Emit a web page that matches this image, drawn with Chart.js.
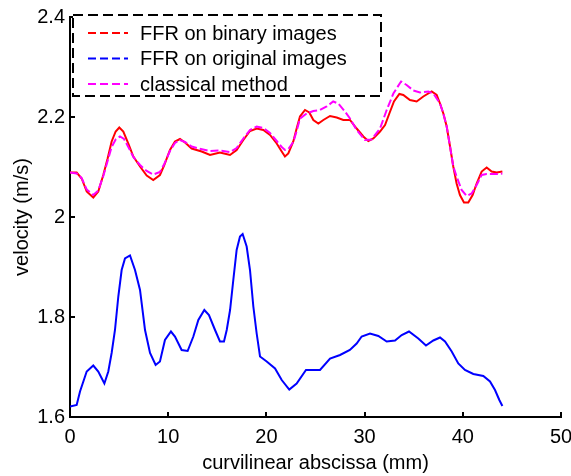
<!DOCTYPE html>
<html>
<head>
<meta charset="utf-8">
<script src="https://cdn.jsdelivr.net/npm/chart.js@4/dist/chart.umd.min.js"></script>
<style>
  body { margin: 0; background: #fff; }
  #wrap { width: 571px; height: 476px; }
</style>
</head>
<body>
<div id="wrap"><canvas id="velChart" width="571" height="476"></canvas></div>
<script>
// ---------------- DATA ----------------
const binaryX = [0, 0.68, 1.19, 1.7, 2.37, 2.88, 3.39, 3.83, 4.24, 4.65, 5.02, 5.43, 5.94, 6.45, 7.13, 7.81, 8.48, 9.16, 9.6, 10.18,
    10.69, 11.2, 11.71, 12.39, 13.41, 14.26, 15.27, 16.29, 16.97, 17.65, 18.33, 19.01, 19.69, 20.37, 21.05, 21.56, 21.89, 22.23, 22.74, 23.08,
    23.42, 23.93, 24.37, 24.78, 25.29, 25.8, 26.48, 27.16, 27.83, 28.51, 29.19, 29.87, 30.38, 30.89, 31.57, 32.08, 32.52, 32.99, 33.54, 33.94,
    34.62, 35.3, 35.98, 36.83, 37.34, 37.68, 38.02, 38.36, 38.7, 39.03, 39.37, 39.71, 40.12, 40.56, 41.0, 41.41, 41.92, 42.43, 42.94, 43.45, 44.03];
const binaryY = [2.089, 2.089, 2.077, 2.051, 2.039, 2.051, 2.084, 2.117, 2.151, 2.171, 2.179, 2.171, 2.147, 2.121, 2.101, 2.083, 2.074, 2.084, 2.104, 2.134,
    2.151, 2.156, 2.149, 2.137, 2.131, 2.124, 2.129, 2.124, 2.134, 2.154, 2.172, 2.177, 2.174, 2.164, 2.147, 2.131, 2.121, 2.127, 2.151, 2.177,
    2.201, 2.214, 2.209, 2.194, 2.187, 2.194, 2.202, 2.199, 2.194, 2.194, 2.177, 2.161, 2.152, 2.157, 2.171, 2.184, 2.207, 2.231, 2.246, 2.244,
    2.234, 2.231, 2.241, 2.251, 2.244, 2.227, 2.207, 2.181, 2.141, 2.101, 2.067, 2.044, 2.029, 2.029, 2.044, 2.067, 2.091, 2.099, 2.091, 2.089, 2.091];

const originalX = [0, 0.68, 1.02, 1.7, 2.37, 2.88, 3.5, 3.9, 4.24, 4.58, 4.92, 5.26, 5.6, 6.11, 6.62, 7.13, 7.64, 8.15, 8.72, 9.16,
    9.67, 10.28, 10.69, 11.37, 11.98, 12.56, 13.07, 13.68, 14.15, 14.77, 15.27, 15.68, 15.96, 16.3, 16.63, 16.97, 17.31, 17.58, 17.99, 18.33,
    18.67, 19.01, 19.35, 20.03, 20.88, 21.56, 22.33, 23.08, 24.03, 25.46, 26.48, 27.5, 28.5, 29.19, 29.7, 30.55, 31.4, 32.25, 33.1, 33.78,
    34.52, 35.47, 36.25, 37.0, 37.68, 38.19, 38.87, 39.54, 40.22, 41.07, 42.09, 42.77, 43.28, 43.72, 44.03];
const originalY = [1.621, 1.624, 1.651, 1.691, 1.703, 1.691, 1.667, 1.691, 1.728, 1.774, 1.841, 1.894, 1.917, 1.923, 1.894, 1.854, 1.774, 1.728, 1.704, 1.711,
    1.754, 1.771, 1.761, 1.734, 1.732, 1.761, 1.794, 1.814, 1.804, 1.774, 1.751, 1.751, 1.774, 1.814, 1.874, 1.934, 1.961, 1.966, 1.941, 1.894,
    1.821, 1.767, 1.721, 1.711, 1.697, 1.674, 1.655, 1.667, 1.694, 1.694, 1.717, 1.724, 1.734, 1.747, 1.761, 1.767, 1.762, 1.751, 1.753, 1.764,
    1.771, 1.757, 1.743, 1.753, 1.759, 1.751, 1.731, 1.707, 1.694, 1.686, 1.682, 1.671, 1.654, 1.634, 1.622];

const classicalX = [0, 0.68, 1.19, 1.7, 2.37, 2.88, 3.39, 3.83, 4.24, 4.65, 5.09, 5.5, 5.94, 6.45, 7.13, 7.81, 8.48, 9.16, 9.6, 10.18,
    10.69, 11.2, 11.71, 12.39, 13.07, 14.26, 15.27, 16.29, 16.97, 17.65, 18.33, 19.01, 19.69, 20.37, 21.05, 21.56, 21.89, 22.23, 22.74, 23.08,
    23.42, 24.1, 24.78, 25.46, 26.14, 26.8, 27.32, 28.0, 28.51, 29.19, 30.04, 30.72, 31.57, 32.25, 32.93, 33.71, 34.28, 34.96, 35.64, 36.49,
    37.0, 37.68, 38.02, 38.36, 38.7, 39.03, 39.37, 39.88, 40.39, 40.9, 41.41, 41.92, 42.43, 43.45, 44.03];
const classicalY = [2.089, 2.087, 2.078, 2.055, 2.044, 2.053, 2.082, 2.112, 2.140, 2.155, 2.161, 2.156, 2.140, 2.120, 2.104, 2.092, 2.085, 2.090, 2.106, 2.132,
    2.148, 2.154, 2.150, 2.141, 2.137, 2.132, 2.133, 2.130, 2.138, 2.157, 2.174, 2.181, 2.178, 2.168, 2.152, 2.140, 2.134, 2.136, 2.150, 2.172,
    2.197, 2.207, 2.212, 2.214, 2.221, 2.231, 2.227, 2.211, 2.197, 2.174, 2.154, 2.155, 2.177, 2.214, 2.247, 2.271, 2.264, 2.253, 2.249, 2.251,
    2.247, 2.227, 2.207, 2.181, 2.141, 2.101, 2.081, 2.054, 2.042, 2.047, 2.064, 2.084, 2.086, 2.086, 2.087];

const xTicks = [0, 10, 20, 30, 40, 50];
const xTickLabels = ["0", "10", "20", "30", "40", "50"];
const yTicks = [1.6, 1.8, 2.0, 2.2, 2.4];
const yTickLabels = ["1.6", "1.8", "2", "2.2", "2.4"];

const seriesNames = ["FFR on binary images", "FFR on original images", "classical method"];

// ---------------- HELPERS ----------------
const toPoints = (xs, ys) => xs.map((x, i) => ({ x: x, y: ys[i] }));

Chart.defaults.font.family = "'Liberation Sans', Arial, sans-serif";
Chart.defaults.color = "#000";

// inward tick marks on the left and bottom axes
const innerTicks = {
    id: "innerTicks",
    afterDraw(chart) {
        const ctx = chart.ctx;
        const area = chart.chartArea;
        const xs = chart.scales.x, ys = chart.scales.y;
        ctx.save();
        ctx.strokeStyle = "#000";
        ctx.lineWidth = 2;
        ctx.beginPath();
        yTicks.forEach(v => {
            const py = Math.round(ys.getPixelForValue(v));
            ctx.moveTo(area.left, py);
            ctx.lineTo(area.left + 5, py);
        });
        xTicks.forEach(v => {
            const px = Math.round(xs.getPixelForValue(v));
            ctx.moveTo(px, area.bottom);
            ctx.lineTo(px, area.bottom - 5);
        });
        ctx.stroke();
        ctx.restore();
    }
};

// dashed legend box in the top-left corner
const boxLegend = {
    id: "boxLegend",
    afterDraw(chart) {
        const ctx = chart.ctx;
        const area = chart.chartArea;
        const left = area.left + 3, top = area.top - 2;
        const w = 308, h = 81;
        ctx.save();
        ctx.fillStyle = "#fff";
        ctx.fillRect(left, top, w, h);
        ctx.strokeStyle = "#000";
        ctx.lineWidth = 2;
        ctx.setLineDash([10, 5]);
        ctx.strokeRect(left, top, w, h);

        ctx.font = "20px 'Liberation Sans', Arial, sans-serif";
        ctx.textBaseline = "middle";
        ctx.textAlign = "left";
        chart.data.datasets.forEach((ds, i) => {
            const rowY = top + 18 + i * 25.5;
            ctx.strokeStyle = ds.borderColor;
            ctx.lineWidth = 2;
            ctx.setLineDash([8, 4]);
            ctx.beginPath();
            ctx.moveTo(left + 15, rowY);
            ctx.lineTo(left + 55, rowY);
            ctx.stroke();
            ctx.fillStyle = "#000";
            ctx.fillText(ds.label, left + 67, rowY + 1);
        });
        ctx.restore();
    }
};

// ---------------- CHART ----------------
new Chart(document.getElementById("velChart"), {
    type: "line",
    data: {
        datasets: [
            {
                label: seriesNames[0],
                data: toPoints(binaryX, binaryY),
                borderColor: "#ff0000",
                borderWidth: 2,
                order: 1
            },
            {
                label: seriesNames[1],
                data: toPoints(originalX, originalY),
                borderColor: "#0000ff",
                borderWidth: 2,
                order: 2
            },
            {
                label: seriesNames[2],
                data: toPoints(classicalX, classicalY),
                borderColor: "#ff00ff",
                borderWidth: 2,
                borderDash: [8, 3],
                order: 0
            }
        ]
    },
    options: {
        responsive: false,
        animation: false,
        elements: { point: { radius: 0 }, line: { tension: 0 } },
        layout: { padding: { top: 17, right: 10, left: 0, bottom: 0 } },
        plugins: {
            legend: { display: false },
            tooltip: { enabled: false }
        },
        scales: {
            x: {
                type: "linear",
                min: 0,
                max: 50,
                afterBuildTicks: s => { s.ticks = xTicks.map(v => ({ value: v })); },
                // fixed height, and let the "50" label hang past the right edge
                afterFit: s => { s.height = 59; s.paddingRight = 0; s.paddingLeft = 0; },
                grid: { display: false, drawTicks: false },
                border: { display: true, color: "#000", width: 2 },
                ticks: {
                    padding: 8,
                    font: { size: 20 },
                    callback: v => xTickLabels[xTicks.indexOf(v)]
                },
                title: {
                    display: true,
                    text: "curvilinear abscissa (mm)",
                    font: { size: 20 },
                    padding: { top: 0, bottom: 1 }
                }
            },
            y: {
                min: 1.6,
                max: 2.4,
                afterBuildTicks: s => { s.ticks = yTicks.map(v => ({ value: v })); },
                afterFit: s => { s.width = 70; },
                grid: { display: false, drawTicks: false },
                border: { display: true, color: "#000", width: 2 },
                ticks: {
                    padding: 5,
                    font: { size: 20 },
                    callback: v => yTickLabels[yTicks.indexOf(v)]
                },
                title: {
                    display: true,
                    text: "velocity (m/s)",
                    font: { size: 20 },
                    padding: { top: 10, bottom: 0 }
                }
            }
        }
    },
    plugins: [innerTicks, boxLegend]
});
</script>
</body>
</html>
